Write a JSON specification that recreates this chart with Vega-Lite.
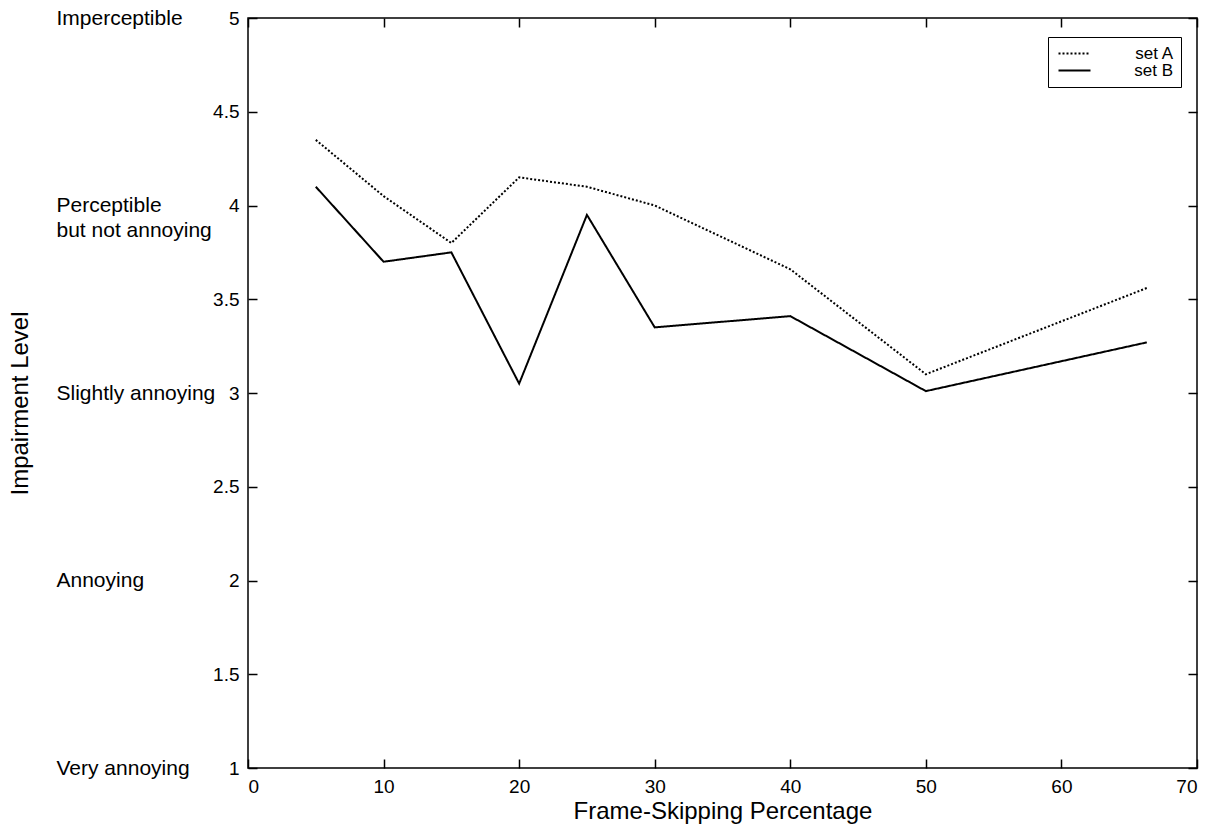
{
  "$schema": "https://vega.github.io/schema/vega-lite/v6.json",
  "width": 949,
  "height": 750,
  "autosize": "none",
  "padding": {"left": 248, "top": 18, "right": 23, "bottom": 60},
  "background": "white",
  "config": {
    "font": "Liberation Sans",
    "view": {"stroke": "black", "strokeWidth": 1.5},
    "axis": {
      "grid": false,
      "domain": false,
      "tickColor": "black",
      "tickWidth": 1.5,
      "labelColor": "black",
      "titleColor": "black",
      "labelFont": "Liberation Sans",
      "titleFont": "Liberation Sans",
      "titleFontWeight": "normal"
    },
    "legend": {
      "orient": "none",
      "legendX": 800,
      "legendY": 19,
      "strokeColor": "black",
      "fillColor": "white",
      "padding": 8,
      "labelFont": "Liberation Sans",
      "labelFontSize": 17,
      "labelColor": "black",
      "labelAlign": "right",
      "symbolStrokeWidth": 2,
      "rowPadding": -8
    }
  },
  "data": {
    "values": [
      {"set": "set A", "frameSkip": 5, "level": 4.35},
      {"set": "set A", "frameSkip": 10, "level": 4.05},
      {"set": "set A", "frameSkip": 15, "level": 3.8},
      {"set": "set A", "frameSkip": 20, "level": 4.15},
      {"set": "set A", "frameSkip": 25, "level": 4.1},
      {"set": "set A", "frameSkip": 30, "level": 4.0},
      {"set": "set A", "frameSkip": 40, "level": 3.66},
      {"set": "set A", "frameSkip": 50, "level": 3.1},
      {"set": "set A", "frameSkip": 66.3, "level": 3.56},
      {"set": "set B", "frameSkip": 5, "level": 4.1},
      {"set": "set B", "frameSkip": 10, "level": 3.7},
      {"set": "set B", "frameSkip": 15, "level": 3.75},
      {"set": "set B", "frameSkip": 20, "level": 3.05},
      {"set": "set B", "frameSkip": 25, "level": 3.95},
      {"set": "set B", "frameSkip": 30, "level": 3.35},
      {"set": "set B", "frameSkip": 40, "level": 3.41},
      {"set": "set B", "frameSkip": 50, "level": 3.01},
      {"set": "set B", "frameSkip": 66.3, "level": 3.27}
    ]
  },
  "layer": [
    {
      "mark": {"type": "line", "strokeWidth": 2},
      "encoding": {
        "x": {
          "field": "frameSkip",
          "type": "quantitative",
          "scale": {"domain": [0, 70], "nice": false},
          "axis": {
            "orient": "bottom",
            "values": [0, 10, 20, 30, 40, 50, 60, 70],
            "labelFontSize": 19,
            "tickSize": -9,
            "labelPadding": 18,
            "title": "Frame-Skipping Percentage",
            "titleFontSize": 24,
            "titleY": 43,
            "titleBaseline": "middle"
          }
        },
        "y": {
          "field": "level",
          "type": "quantitative",
          "scale": {"domain": [1, 5], "nice": false, "zero": false},
          "axis": {
            "orient": "left",
            "values": [1, 1.5, 2, 2.5, 3, 3.5, 4, 4.5, 5],
            "format": "~g",
            "labelFontSize": 19,
            "tickSize": -9,
            "labelPadding": 18,
            "title": "Impairment Level",
            "titleFontSize": 24,
            "titleX": -228,
            "titleY": 385,
            "titleAngle": -90,
            "titleAlign": "center",
            "titleBaseline": "middle"
          }
        },
        "color": {
          "field": "set",
          "type": "nominal",
          "scale": {"domain": ["set A", "set B"], "range": ["black", "black"]},
          "legend": {
            "title": null,
            "symbolType": "M-4,0H4",
            "symbolSize": 64,
            "symbolOffset": 10,
            "labelOffset": 90
          }
        },
        "strokeDash": {
          "field": "set",
          "type": "nominal",
          "scale": {"domain": ["set A", "set B"], "range": [[2, 2], [1, 0]]},
          "legend": {
            "title": null,
            "symbolType": "M-4,0H4",
            "symbolSize": 64,
            "symbolOffset": 10,
            "labelOffset": 90
          }
        }
      }
    },
    {
      "mark": {"type": "line", "strokeOpacity": 0},
      "encoding": {
        "x": {
          "field": "frameSkip",
          "type": "quantitative",
          "axis": {
            "orient": "top",
            "values": [0, 10, 20, 30, 40, 50, 60, 70],
            "labels": false,
            "tickSize": -9,
            "title": null
          }
        },
        "y": {
          "field": "level",
          "type": "quantitative",
          "axis": {
            "orient": "right",
            "values": [1, 1.5, 2, 2.5, 3, 3.5, 4, 4.5, 5],
            "labels": false,
            "tickSize": -9,
            "title": null
          }
        },
        "detail": {"field": "set", "type": "nominal"}
      }
    },
    {
      "mark": {"type": "line", "strokeOpacity": 0},
      "encoding": {
        "x": {"field": "frameSkip", "type": "quantitative", "axis": null},
        "y": {
          "field": "level",
          "type": "quantitative",
          "axis": {
            "orient": "left",
            "values": [1, 2, 3, 4, 5],
            "ticks": false,
            "tickSize": 0,
            "labelAlign": "left",
            "labelPadding": 192,
            "labelFontSize": 21,
            "labelLineHeight": 25,
            "labelExpr": "datum.value == 5 ? 'Imperceptible' : datum.value == 4 ? ['Perceptible', 'but not annoying'] : datum.value == 3 ? 'Slightly annoying' : datum.value == 2 ? 'Annoying' : 'Very annoying'",
            "labelBound": false,
            "title": null
          }
        },
        "detail": {"field": "set", "type": "nominal"}
      }
    }
  ],
  "resolve": {"axis": {"x": "independent", "y": "independent"}}
}
